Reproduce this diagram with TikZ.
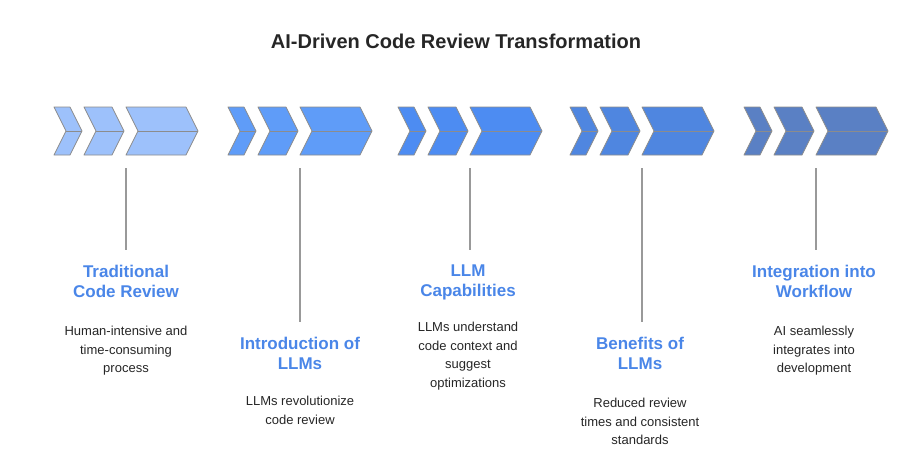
\documentclass[tikz,border=0pt]{standalone}
\usepackage{fontspec}
\setmainfont{Liberation Sans}
\begin{document}
\begin{tikzpicture}[x=1pt,y=-1pt,
 chev/.style={draw=black!45,line width=0.8pt,line join=round},
 mid/.style={draw=black!45,line width=0.6pt},
 stem/.style={draw=black!40,line width=1.2pt},
 ttl/.style={font=\bfseries\fontsize{17}{20}\selectfont,text=tblue,align=center,inner sep=0pt},
 dsc/.style={font=\fontsize{13}{18.5}\selectfont,text=black!85,align=center,inner sep=0pt}]
\definecolor{tblue}{HTML}{4A86E8}
\definecolor{ca}{HTML}{9DC1FB}
\definecolor{cb}{HTML}{5F9CF8}
\definecolor{cc}{HTML}{4D8CF2}
\definecolor{cd}{HTML}{4F86E0}
\definecolor{ce}{HTML}{5A80C4}
\useasboundingbox (0,0) rectangle (912,467);
\node[font=\bfseries\fontsize{20}{24}\selectfont,text=black!85] (title) at (456,41) {AI-Driven Code Review Transformation};
\newcommand{\onechev}[3]{% left, right, color
 \fill[#3,chev] (#1,107) -- ({#2-12},107) -- (#2,131) -- ({#2-12},155) -- (#1,155) -- ({#1+12},131) -- cycle;
 \draw[mid] ({#1+12},131) -- (#2,131);}
\newcommand{\grp}[3]{% offset x, color, name
 \onechev{#1}{#1+28}{#2}
 \onechev{#1+30}{#1+70}{#2}
 \onechev{#1+72}{#1+144}{#2}
 \coordinate (#3) at (#1+72,168);}
\grp{54}{ca}{g1}
\grp{228}{cb}{g2}
\grp{398}{cc}{g3}
\grp{570}{cd}{g4}
\grp{744}{ce}{g5}
\coordinate (e1) at (126,250); \coordinate (e2) at (300,322);
\coordinate (e3) at (470,250); \coordinate (e4) at (642,322);
\coordinate (e5) at (816,250);
\foreach \i in {1,...,5} \draw[stem] (g\i) -- (e\i);
\node[ttl,anchor=north] (t1) at (126,265) {Traditional\\Code Review};
\node[dsc,anchor=north] (d1) at (126,326) {Human-intensive and\\time-consuming\\process};
\node[ttl,anchor=north] (t2) at (300,337) {Introduction of\\LLMs};
\node[dsc,anchor=north] (d2) at (300,396) {LLMs revolutionize\\code review};
\node[ttl,anchor=north] (t3) at (468,265) {LLM\\Capabilities};
\node[dsc,anchor=north] (d3) at (468,322) {LLMs understand\\code context and\\suggest\\optimizations};
\node[ttl,anchor=north] (t4) at (640,337) {Benefits of\\LLMs};
\node[dsc,anchor=north] (d4) at (640,398) {Reduced review\\times and consistent\\standards};
\node[ttl,anchor=north] (t5) at (814,265) {Integration into\\Workflow};
\node[dsc,anchor=north] (d5) at (814,326) {AI seamlessly\\integrates into\\development};
\end{tikzpicture}
\end{document}
